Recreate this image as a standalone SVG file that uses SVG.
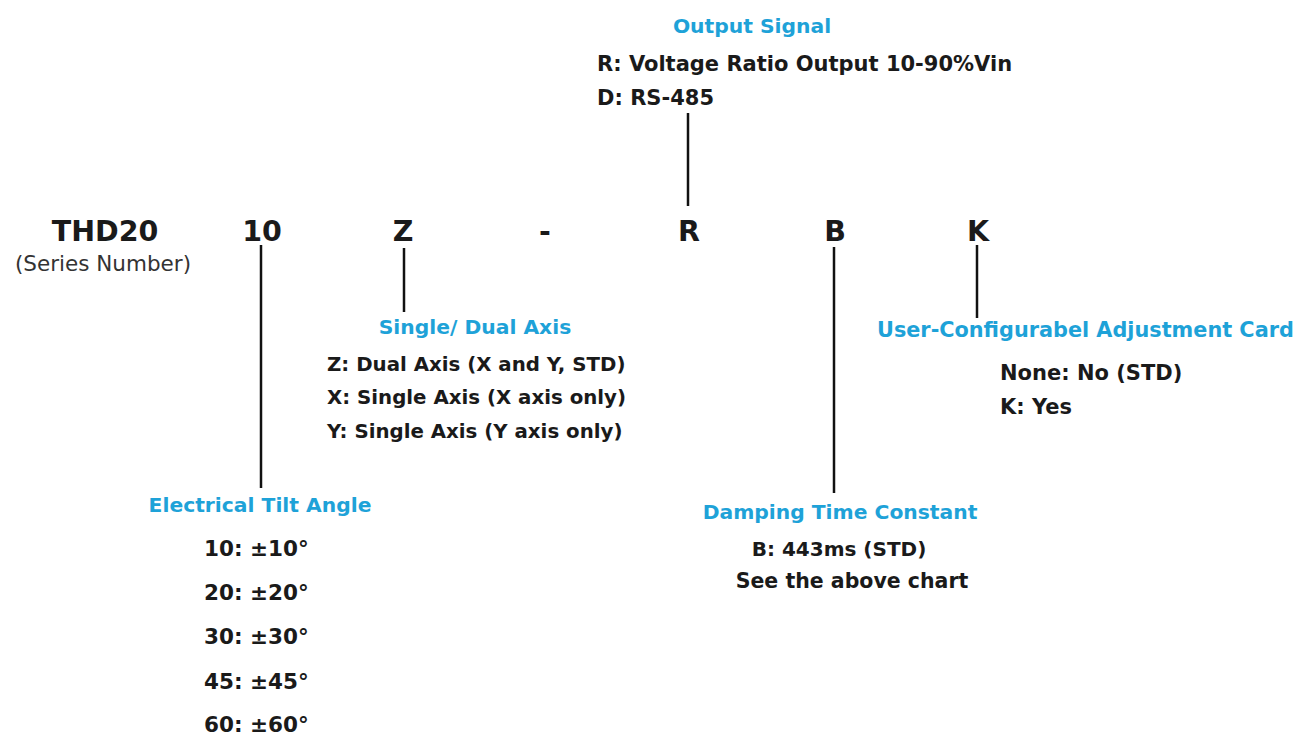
<svg xmlns="http://www.w3.org/2000/svg" width="1298" height="738" viewBox="0 0 1298 738">
<style>
text{font-family:"DejaVu Sans","Verdana",sans-serif;font-weight:bold;fill:#1a1a1a}
.t{fill:#1ea2d8;font-size:20.3px}
.b{font-size:20.5px}
.code{font-size:28.5px;text-anchor:middle}
.s{font-weight:normal;font-size:21.5px;fill:#333}
.c{text-anchor:middle}
line{stroke:#111;stroke-width:2.5}
</style>
<rect width="1298" height="738" fill="#fff"/>
<g id="connectors">
<line x1="688" y1="113" x2="688" y2="206"/>
<line x1="261" y1="245" x2="261" y2="488"/>
<line x1="404" y1="248" x2="404" y2="312"/>
<line x1="834" y1="247" x2="834" y2="493"/>
<line x1="977" y1="245" x2="977" y2="318"/>
</g>
<g id="series"><text class="code" x="105" y="241">THD20</text><text class="s c" x="103" y="271">(Series Number)</text></g>
<g id="code10"><text class="code" x="262" y="241">10</text></g>
<g id="codeZ"><text class="code" x="403" y="241">Z</text></g>
<g id="dash"><text class="code" x="545" y="241">-</text></g>
<g id="codeR"><text class="code" x="689" y="241">R</text></g>
<g id="codeB"><text class="code" x="835" y="241">B</text></g>
<g id="codeK"><text class="code" x="978" y="241">K</text></g>
<g id="output-signal">
<text class="t c" x="752" y="33">Output Signal</text>
<text class="b" x="597" y="71" style="font-size:21px">R: Voltage Ratio Output 10-90%Vin</text>
<text class="b" x="597" y="105" style="font-size:21px">D: RS-485</text>
</g>
<g id="axis">
<text class="t c" x="475" y="334">Single/ Dual Axis</text>
<text class="b" x="327" y="371" style="font-size:19.8px">Z: Dual Axis (X and Y, STD)</text>
<text class="b" x="327" y="404" style="font-size:19.8px">X: Single Axis (X axis only)</text>
<text class="b" x="327" y="438" style="font-size:19.8px">Y: Single Axis (Y axis only)</text>
</g>
<g id="adjustment-card">
<text class="t" x="877" y="337" style="font-size:20.8px">User-Configurabel Adjustment Card</text>
<text class="b" x="1000" y="380" style="font-size:21px">None: No (STD)</text>
<text class="b" x="1000" y="414" style="font-size:21px">K: Yes</text>
</g>
<g id="tilt-angle">
<text class="t c" x="260" y="512">Electrical Tilt Angle</text>
<text class="b" x="204" y="556" style="font-size:21.5px">10: ±10°</text>
<text class="b" x="204" y="600" style="font-size:21.5px">20: ±20°</text>
<text class="b" x="204" y="644" style="font-size:21.5px">30: ±30°</text>
<text class="b" x="204" y="689" style="font-size:21.5px">45: ±45°</text>
<text class="b" x="204" y="732" style="font-size:21.5px">60: ±60°</text>
</g>
<g id="damping">
<text class="t c" x="840" y="519">Damping Time Constant</text>
<text class="b c" x="839" y="556" style="font-size:20px">B: 443ms (STD)</text>
<text class="b c" x="852" y="588">See the above chart</text>
</g>
</svg>
